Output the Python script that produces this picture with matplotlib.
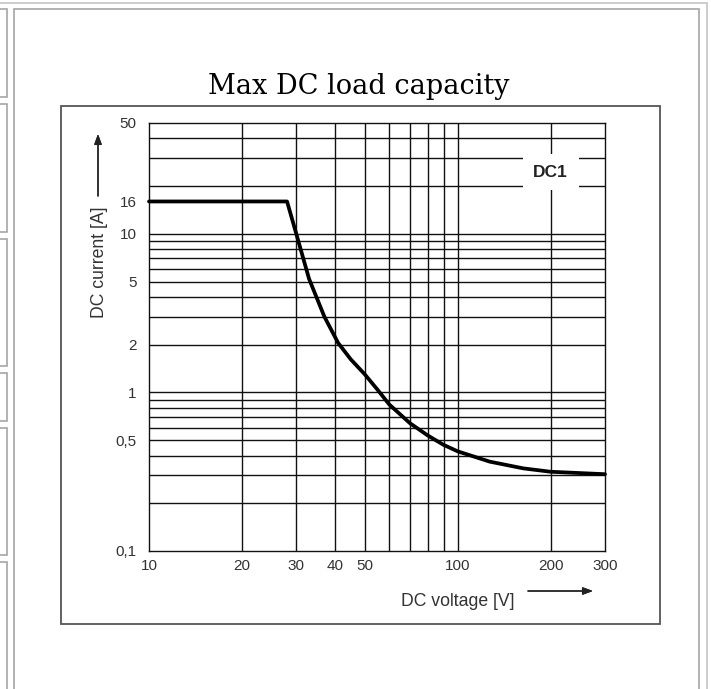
import matplotlib
matplotlib.use('Agg')
from matplotlib import pyplot as plt
from matplotlib.patches import Rectangle

imgW = 711
imgH = 689

# curve
volt = [10, 28, 30, 33, 37, 41, 45, 50, 55, 60, 70, 80, 90, 100, 127, 163, 200, 300]
amps = [16, 16, 10, 5.2, 3.0, 2.05, 1.62, 1.30, 1.04, 0.84, 0.64, 0.535, 0.467, 0.425, 0.366, 0.332, 0.316, 0.305]

xGrid = [20, 30, 40, 50, 60, 70, 80, 90, 100, 200]
yGrid = [0.2, 0.3, 0.4, 0.5, 0.6, 0.7, 0.8, 0.9, 1, 2, 3, 4, 5, 6, 7, 8, 9, 10, 20, 30, 40]

xTicks = [10, 20, 30, 40, 50, 100, 200, 300]
xTickLabels = ['10', '20', '30', '40', '50', '100', '200', '300']
yTicks = [0.1, 0.5, 1, 2, 5, 10, 16, 50]
yTickLabels = ['0,1', '0,5', '1', '2', '5', '10', '16', '50']


def px(x, y):
    # screen pixel (top-left origin) -> figure fraction
    return x / imgW, (imgH - y) / imgH


def pageFrame(fig):
    gray = '#a6a6a6'
    # left side boxes of the page
    for y0, y1 in [(9, 97), (104, 232), (239, 366), (373, 421), (428, 555), (562, 700)]:
        x0, yb = px(-2, y1)
        x1, yt = px(7, y0)
        fig.add_artist(Rectangle((x0, yb), x1 - x0, yt - yb, transform=fig.transFigure,
                                 fill=False, edgecolor=gray, linewidth=1.2, zorder=-5))
    # outer + inner panel
    for (x0, y0, x1) , clr in [((-5, 3, 707), '#c4c4c4'), ((14, 9, 699), gray)]:
        a, b = px(x0, 700)
        c, d = px(x1, y0)
        fig.add_artist(Rectangle((a, b), c - a, d - b, transform=fig.transFigure,
                                 fill=False, edgecolor=clr, linewidth=1.2, zorder=-5))
    # image box of the chart
    a, b = px(61, 624)
    c, d = px(660, 106)
    fig.add_artist(Rectangle((a, b), c - a, d - b, transform=fig.transFigure,
                             facecolor='white', edgecolor='#555555', linewidth=1.3, zorder=-4))


def plot():
    fig = plt.figure(figsize=(imgW / 100, imgH / 100), dpi=100)
    fig.patch.set_facecolor('white')
    pageFrame(fig)

    l, b = px(149, 551)
    r, t = px(605, 123)
    ax = fig.add_axes([l, b, r - l, t - b])
    ax.set_facecolor('white')
    ax.set_zorder(2)

    ax.set_xscale('log')
    ax.set_yscale('log')
    ax.set_xlim(10, 300)
    ax.set_ylim(0.1, 50)

    for x in xGrid:
        ax.axvline(x, color='#111111', linewidth=1.0, zorder=1)
    for y in yGrid:
        ax.axhline(y, color='#111111', linewidth=1.0, zorder=1)

    ax.plot(volt, amps, color='black', linewidth=2.7, solid_capstyle='round',
            solid_joinstyle='round', zorder=3, clip_on=False)

    ax.set_xticks(xTicks, xTickLabels)
    ax.set_yticks(yTicks, yTickLabels)
    ax.minorticks_off()
    ax.tick_params(length=0, labelsize=11, labelcolor='#333333')
    ax.tick_params(axis='x', pad=6)
    ax.tick_params(axis='y', pad=9)
    for lab in ax.get_xticklabels() + ax.get_yticklabels():
        lab.set_family('Liberation Sans')

    for s in ax.spines.values():
        s.set_color('#111111')
        s.set_linewidth(1.0)

    ax.text(200, 24.5, 'DC1', ha='center', va='center', fontsize=12.5, fontweight='bold',
            family='Liberation Sans', color='#222222', zorder=5,
            bbox=dict(boxstyle='square,pad=0.62', facecolor='white', edgecolor='none'))

    # axis labels with arrows
    fig.text(*px(100, 262), 'DC current [A]', rotation=90, ha='center', va='center',
             fontsize=12.7, family='Liberation Sans', color='#333333')
    fig.text(*px(458, 602), 'DC voltage [V]', ha='center', va='center',
             fontsize=12.7, family='Liberation Sans', color='#333333')
    arr = dict(arrowstyle='-|>,head_length=0.6,head_width=0.22', color='#222222',
               linewidth=1.0, shrinkA=0, shrinkB=0)
    fig.add_artist(plt.annotate('', xy=px(98, 134), xytext=px(98, 196),
                                xycoords='figure fraction', textcoords='figure fraction',
                                arrowprops=arr))
    fig.add_artist(plt.annotate('', xy=px(593, 591), xytext=px(528, 591),
                                xycoords='figure fraction', textcoords='figure fraction',
                                arrowprops=arr))

    tx, ty = px(359, 94.5)
    fig.text(tx, ty, 'Max DC load capacity', ha='center', va='baseline',
             fontsize=19.5, family='DejaVu Serif', color='black')

    plt.savefig('out.png', dpi=100)


if __name__ == '__main__':
    plot()
